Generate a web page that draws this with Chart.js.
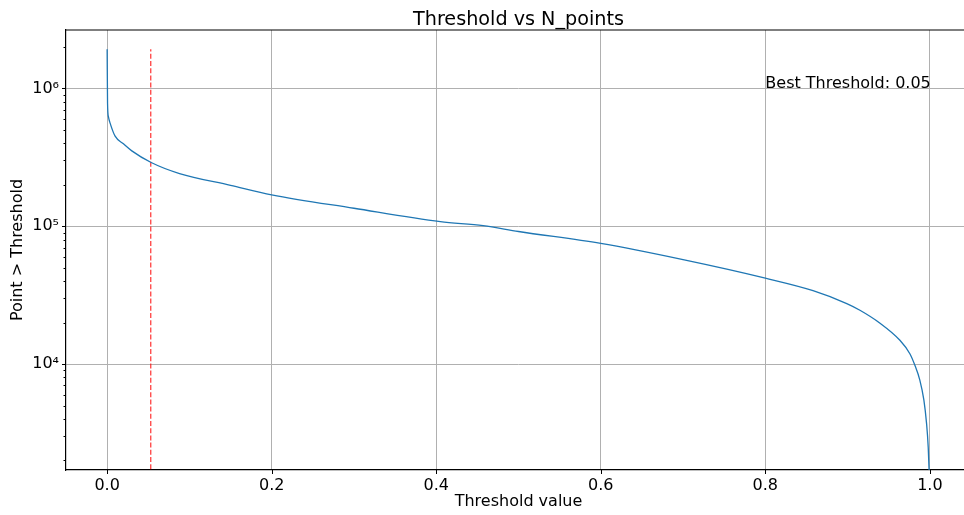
<!DOCTYPE html>
<html>
<head>
<meta charset="utf-8">
<script src="https://cdn.jsdelivr.net/npm/chart.js@4"></script>
<style>
body{margin:0;overflow:hidden;background:#fff}
#wrap{width:972px;height:515px;position:relative}
</style>
</head>
<body>
<div id="wrap"><canvas id="myChart"></canvas></div>
<script>
// threshold value -> number of points above it
var thresholds=[0,0.0005,0.0016,0.0036,0.0097,0.0198,0.03,0.0535,0.088,0.15,0.2,0.3,0.405,0.457,0.5,0.6,0.7,0.8,0.858,0.899,0.915,0.939,0.9636,0.9757,0.9818,0.9878,0.9927,0.996,0.998,1.0]
var counts=[1.92e6,7.8e5,6.2e5,5.6e5,4.5e5,3.96e5,3.52e5,2.9e5,2.41e5,1.98e5,1.69e5,1.35e5,1.08e5,1.01e5,9.16e4,7.5e4,5.72e4,4.2e4,3.41e4,2.75e4,2.46e4,1.99e4,1.49e4,1.19e4,9.8e3,7.66e3,5.5e3,3.7e3,2.5e3,1.2e3]
var bestThreshold=0.053

var xTicks=[0,0.2,0.4,0.6,0.8,1.0]
var yMajor=[1e4,1e5,1e6]
var yMinor=[2e3,3e3,4e3,5e3,6e3,7e3,8e3,9e3,2e4,3e4,4e4,5e4,6e4,7e4,8e4,9e4,2e5,3e5,4e5,5e5,6e5,7e5,8e5,9e5,2e6]
var sup={"4":"\u2074","5":"\u2075","6":"\u2076"}

Chart.defaults.font.family="'DejaVu Sans'"
Chart.defaults.font.size=16
Chart.defaults.color="#000"

var pts=thresholds.map(function(t,i){return {x:t,y:counts[i]}})
var best=[{x:bestThreshold,y:1},{x:bestThreshold,y:counts[0]}]

function line(ctx,x1,y1,x2,y2){ctx.beginPath();ctx.moveTo(x1,y1);ctx.lineTo(x2,y2);ctx.stroke()}

// top spine, tick marks, title and the annotation
var frame={
    id:"frame",
    afterDraw:function(chart){
        var ctx=chart.ctx, a=chart.chartArea, xs=chart.scales.x, ys=chart.scales.y
        ctx.save()
        ctx.strokeStyle="#000"
        ctx.lineWidth=1.2
        line(ctx,a.left,a.top,a.right,a.top)
        ctx.lineWidth=1
        xTicks.forEach(function(v){var p=Math.round(xs.getPixelForValue(v))+0.5;line(ctx,p,a.bottom,p,a.bottom+4)})
        yMajor.forEach(function(v){var p=Math.round(ys.getPixelForValue(v))+0.5;line(ctx,a.left-4,p,a.left,p)})
        yMinor.forEach(function(v){var p=Math.round(ys.getPixelForValue(v))+0.5;line(ctx,a.left-2.5,p,a.left,p)})
        ctx.fillStyle="#000"
        ctx.textBaseline="alphabetic"
        ctx.font="19.2px 'DejaVu Sans'"
        ctx.textAlign="center"
        ctx.fillText("Threshold vs N_points",(a.left+a.right)/2,25)
        ctx.font="16px 'DejaVu Sans'"
        ctx.textAlign="left"
        ctx.fillText("Best Threshold: "+bestThreshold.toFixed(2),xs.getPixelForValue(0.8),ys.getPixelForValue(1e6))
        ctx.restore()
    }
}

new Chart(document.getElementById("myChart"),{
    type:"line",
    data:{
        datasets:[{
            data:pts,
            borderColor:"#1f77b4",
            borderWidth:1.3,
            pointRadius:0,
            fill:false,
            cubicInterpolationMode:"monotone"
        },{
            data:best,
            borderColor:"rgba(255,0,0,0.75)",
            borderWidth:1.3,
            borderDash:[5,2.2],
            pointRadius:0,
            fill:false
        }]
    },
    options:{
        responsive:true,
        maintainAspectRatio:false,
        animation:false,
        events:[],
        devicePixelRatio:1,
        layout:{padding:{top:30,left:0,right:1,bottom:0}},
        plugins:{legend:{display:false},tooltip:{enabled:false},title:{display:false}},
        scales:{
            x:{
                type:"linear",
                min:-0.05,max:1.05,
                bounds:"data",
                afterBuildTicks:function(s){s.ticks=xTicks.map(function(v){return {value:v}})},
                afterFit:function(s){s.height=45},
                ticks:{autoSkip:false,maxRotation:0,padding:6,callback:function(v){return v.toFixed(1)}},
                grid:{color:"#b0b0b0",lineWidth:1,drawTicks:false},
                border:{color:"#000",width:1.2},
                title:{display:true,text:"Threshold value",padding:{top:4,bottom:4}}
            },
            y:{
                type:"logarithmic",
                min:1706,max:2.65e6,
                bounds:"data",
                afterBuildTicks:function(s){s.ticks=yMajor.concat(yMinor).sort(function(a,b){return a-b}).map(function(v){return {value:v}})},
                afterFit:function(s){s.width=66},
                ticks:{autoSkip:false,padding:7,callback:function(v){
                    if(yMajor.indexOf(v)<0) return ""
                    var e=String(Math.round(Math.log10(v)))
                    return "10"+sup[e]
                }},
                grid:{drawTicks:false,lineWidth:1,color:function(c){return c.tick&&yMajor.indexOf(c.tick.value)>=0?"#b0b0b0":"rgba(0,0,0,0)"}},
                border:{color:"#000",width:1.2},
                title:{display:true,text:"Point > Threshold",padding:{top:8,bottom:4}}
            }
        }
    },
    plugins:[frame]
})
</script>
</body>
</html>
